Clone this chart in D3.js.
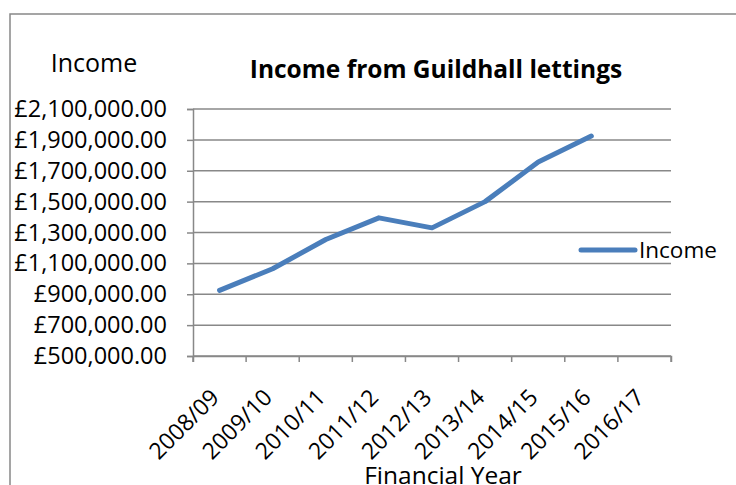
<!DOCTYPE html>
<html>
<head>
<meta charset="utf-8">
<script src="https://cdn.jsdelivr.net/npm/d3@7"></script>
<style>
  body { margin: 0; background: #fff; }
  text { font-family: "Open Sans", Lato, sans-serif; fill: #000; }
</style>
</head>
<body>
<svg id="chart" width="736" height="485"></svg>
<script>
var years = ['2008/09', '2009/10', '2010/11', '2011/12', '2012/13', '2013/14', '2014/15', '2015/16', '2016/17'];
var income = [925000, 1065000, 1255000, 1395000, 1330000, 1500000, 1757000, 1925000, null];
var yTicks = [500000, 700000, 900000, 1100000, 1300000, 1500000, 1700000, 1900000, 2100000];

var svg = d3.select('#chart'),
    margin = {top: 109, right: 65, bottom: 129, left: 193},
    width = 736 - margin.left - margin.right,
    height = 485 - margin.top - margin.bottom;

// outer frame (runs off the right and bottom edges)
svg.append('rect')
    .attr('x', 10).attr('y', 14)
    .attr('width', 800).attr('height', 600)
    .style('fill', 'none')
    .style('stroke', '#888')
    .style('stroke-width', '1.5px');

var g = svg.append('g')
    .attr('transform', 'translate(' + margin.left + ',' + margin.top + ')');

var x = d3.scaleBand().domain(years).range([0, width]);
var y = d3.scaleLinear().domain([500000, 2100000]).range([height, 0]);

var fmt = function(d) { return '£' + d3.format(',.2f')(d); };

// gridlines
g.selectAll('.grid')
    .data(yTicks)
  .enter().append('line')
    .attr('class', 'grid')
    .attr('x1', 0).attr('x2', width)
    .attr('y1', function(d) { return y(d); })
    .attr('y2', function(d) { return y(d); })
    .style('stroke', '#888')
    .style('stroke-width', '1.5px');

var yAxis = g.append('g')
    .call(d3.axisLeft(y).tickValues(yTicks).tickFormat(fmt).tickSize(6).tickPadding(20));
yAxis.select('.domain').style('stroke', '#888').style('stroke-width', '1.5px');
yAxis.selectAll('.tick line').style('stroke', '#888').style('stroke-width', '1.5px');
yAxis.selectAll('text')
    .style('font-size', '23.5px')
    .style('font-family', '"Open Sans", Lato, sans-serif');

var xAxis = g.append('g')
    .attr('transform', 'translate(0,' + height + ')')
    .call(d3.axisBottom(x).tickSize(6).tickFormat(''));
xAxis.select('.domain').style('stroke', '#888').style('stroke-width', '1.5px');
xAxis.selectAll('.tick line')
    .attr('transform', 'translate(' + (-x.bandwidth() / 2) + ',0)')
    .style('stroke', '#888').style('stroke-width', '1.5px');
xAxis.append('line')
    .attr('x1', width).attr('x2', width).attr('y1', 0).attr('y2', 6)
    .style('stroke', '#888').style('stroke-width', '1.5px');

g.selectAll('.xlabel')
    .data(years)
  .enter().append('text')
    .attr('class', 'xlabel')
    .attr('transform', function(d) {
      return 'translate(' + (x(d) + x.bandwidth() / 2 + 1) + ',' + (height + 43) + ') rotate(-45)';
    })
    .attr('text-anchor', 'end')
    .style('font-size', '23px')
    .text(function(d) { return d; });

var line = d3.line()
    .defined(function(d) { return d != null; })
    .x(function(d, i) { return x(years[i]) + x.bandwidth() / 2; })
    .y(function(d) { return y(d); });

g.append('path')
    .datum(income)
    .attr('d', line)
    .style('fill', 'none')
    .style('stroke', '#4a7ebb')
    .style('stroke-width', '5px')
    .style('stroke-linecap', 'round')
    .style('stroke-linejoin', 'round');

// legend
svg.append('line')
    .attr('x1', 581).attr('x2', 635).attr('y1', 250).attr('y2', 250)
    .style('stroke', '#4a7ebb')
    .style('stroke-width', '5px')
    .style('stroke-linecap', 'round');
svg.append('text')
    .attr('x', 639).attr('y', 258)
    .style('font-size', '22.5px')
    .text('Income');

// titles
svg.append('text')
    .attr('x', 436).attr('y', 78)
    .attr('text-anchor', 'middle')
    .style('font-size', '24.5px')
    .style('font-weight', 'bold')
    .text('Income from Guildhall lettings');

svg.append('text')
    .attr('x', 94).attr('y', 72)
    .attr('text-anchor', 'middle')
    .style('font-size', '25px')
    .text('Income');

svg.append('text')
    .attr('x', 443).attr('y', 484)
    .attr('text-anchor', 'middle')
    .style('font-size', '24.5px')
    .text('Financial Year');
</script>
</body>
</html>
